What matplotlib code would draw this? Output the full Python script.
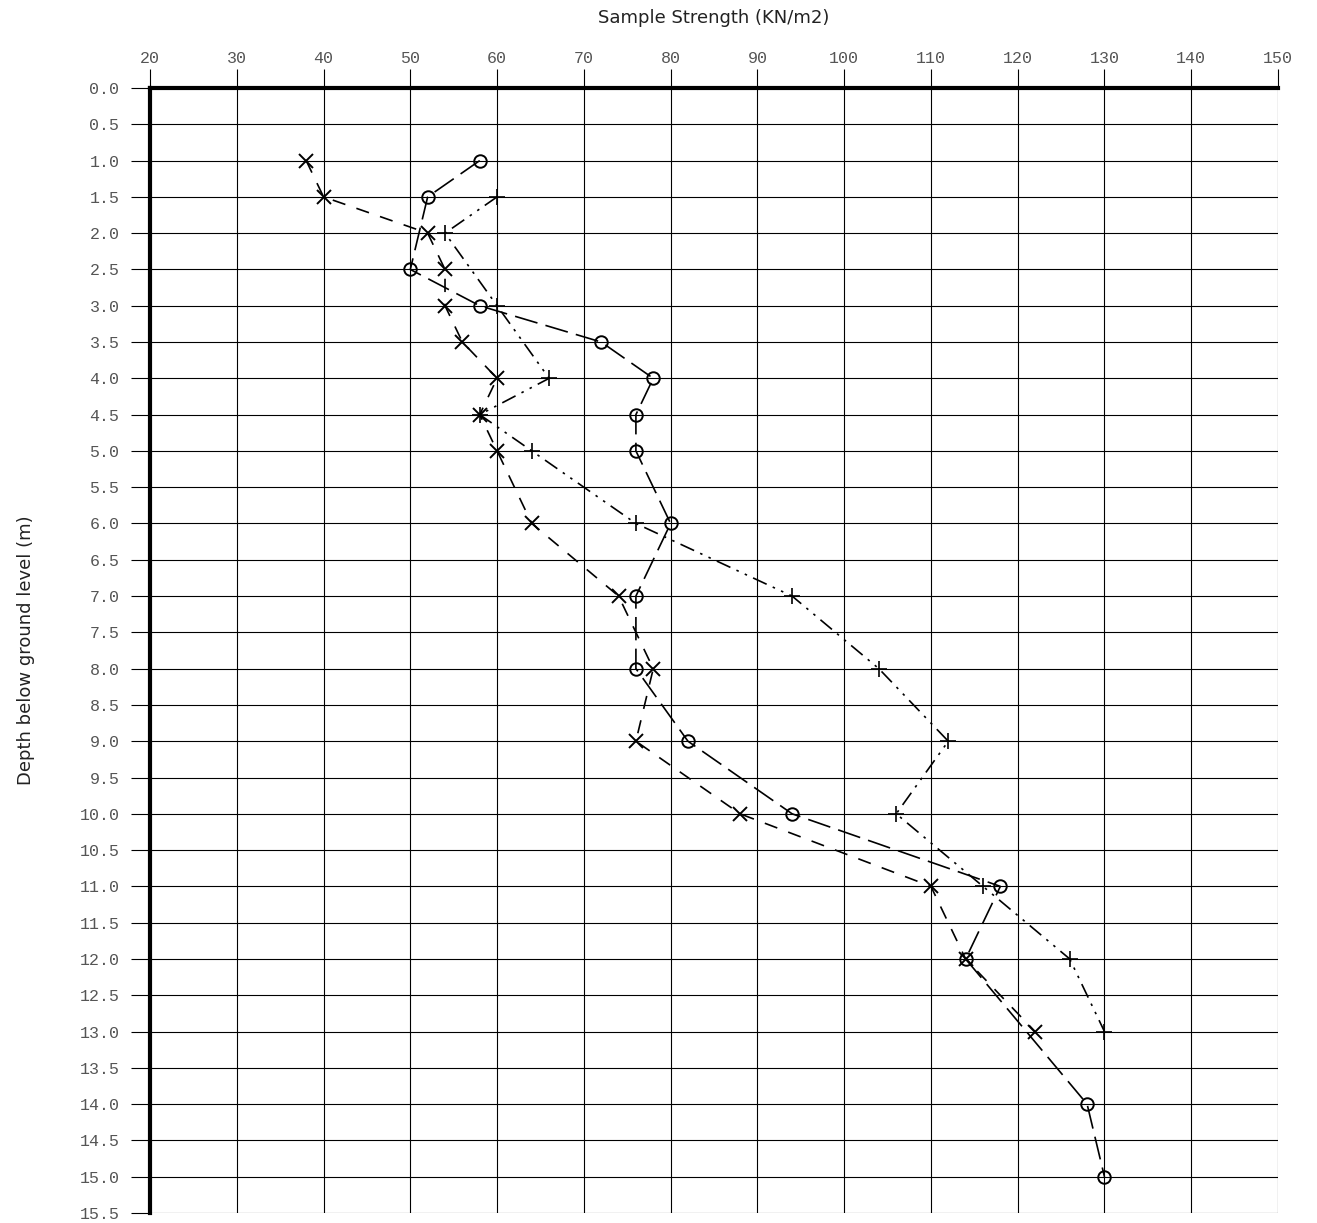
import matplotlib
matplotlib.use("Agg")
import matplotlib.pyplot as plt
import numpy as np

# Data: depth (m) and sample strength (KN/m2)
depth_o = [1.0, 1.5, 2.5, 3.0, 3.5, 4.0, 4.5, 5.0, 6.0, 7.0, 8.0, 9.0, 10.0, 11.0, 12.0, 14.0, 15.0]
strength_o = [58, 52, 50, 58, 72, 78, 76, 76, 80, 76, 76, 82, 94, 118, 114, 128, 130]

depth_x = [1.0, 1.5, 2.0, 2.5, 3.0, 3.5, 4.0, 4.5, 5.0, 6.0, 7.0, 8.0, 9.0, 10.0, 11.0, 12.0, 13.0]
strength_x = [38, 40, 52, 54, 54, 56, 60, 58, 60, 64, 74, 78, 76, 88, 110, 114, 122]

depth_p = [1.5, 2.0, 3.0, 4.0, 4.5, 5.0, 6.0, 7.0, 8.0, 9.0, 10.0, 11.0, 12.0, 13.0]
strength_p = [60, 54, 60, 66, 58, 64, 76, 94, 104, 112, 106, 116, 126, 130]

x_ticks = list(range(20, 151, 10))
y_ticks = [i * 0.5 for i in range(32)]

fig = plt.figure(figsize=(13.17, 12.23), dpi=100)
ax = fig.add_axes([150 / 1317, 10 / 1223, 1128 / 1317, 1125 / 1223])

ax.set_xlim(20, 150)
ax.set_ylim(15.5, 0)

ax.plot(strength_o, depth_o, color="black", lw=1.2, dashes=(14, 5),
        marker="o", ms=9, mfc="none", mec="black", mew=1.4)
ax.plot(strength_x, depth_x, color="black", lw=1.2, dashes=(8, 7),
        marker="x", ms=10, mec="black", mew=1.4)
ax.plot(strength_p, depth_p, color="black", lw=1.2, dashes=(9, 4, 1.5, 4, 1.5, 4),
        marker="+", ms=12, mec="black", mew=1.2)

ax.xaxis.tick_top()
ax.xaxis.set_label_position("top")
ax.set_xticks(x_ticks)
ax.set_xticklabels([str(v) for v in x_ticks])
ax.set_yticks(y_ticks)
ax.set_yticklabels([f"{v:.1f}" for v in y_ticks])

ax.grid(True, color="black", lw=0.8)
ax.tick_params(axis="both", which="major", length=14, width=0.8, color="black",
               labelsize=12, labelcolor="#555555")
ax.tick_params(axis="x", pad=2)
ax.tick_params(axis="y", pad=8)
for lab in ax.get_xticklabels() + ax.get_yticklabels():
    lab.set_fontfamily("Liberation Mono")

for side in ["right", "bottom"]:
    ax.spines[side].set_visible(False)
ax.spines["left"].set_linewidth(3)
ax.spines["top"].set_linewidth(3)

ax.set_xlabel("Sample Strength (KN/m2)", fontsize=13, color="#222222",
              fontfamily="DejaVu Sans", labelpad=20)
ax.set_ylabel("Depth below ground level (m)", fontsize=13, color="#222222",
              fontfamily="DejaVu Sans", labelpad=32)

fig.savefig("out.png", dpi=100)
